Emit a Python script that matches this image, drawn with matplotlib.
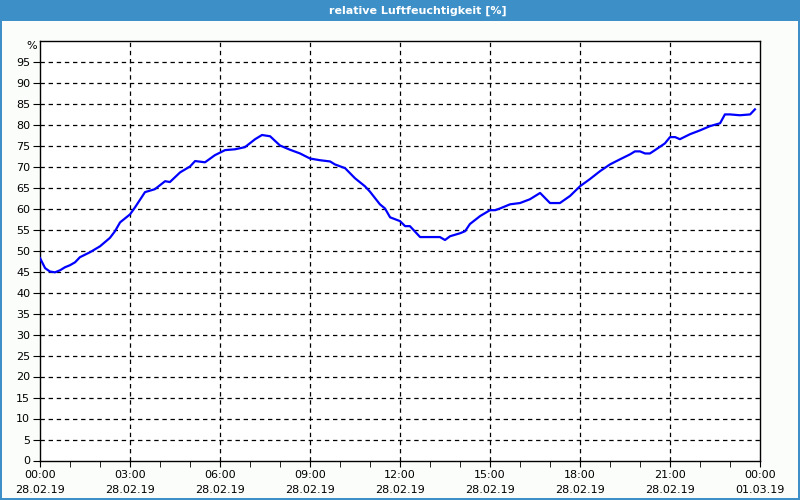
# relative humidity over one day, 28.02.19

import matplotlib.pyplot as plt
from matplotlib.patches import Rectangle
from matplotlib.ticker import MultipleLocator, FixedLocator

title = "relative Luftfeuchtigkeit [%]"

# hours since 28.02.19 00:00
hours = [0.0, 0.17, 0.33, 0.5, 0.67, 0.83, 1.0, 1.17, 1.33, 1.67, 2.0, 2.33, 2.5,
         2.67, 3.0, 3.17, 3.5, 3.83, 4.17, 4.33, 4.67, 5.0, 5.17, 5.5, 5.83, 6.17,
         6.5, 6.83, 7.17, 7.4, 7.67, 8.0, 8.33, 8.67, 9.0, 9.33, 9.67, 9.83, 10.17,
         10.5, 10.83, 11.0, 11.33, 11.5, 11.67, 12.0, 12.17, 12.33, 12.67, 13.0,
         13.33, 13.5, 13.67, 14.0, 14.17, 14.33, 14.67, 15.0, 15.17, 15.33, 15.67,
         16.0, 16.33, 16.67, 17.0, 17.33, 17.67, 18.0, 18.33, 18.67, 19.0, 19.33,
         19.67, 19.83, 20.0, 20.17, 20.33, 20.5, 20.83, 21.0, 21.17, 21.33, 21.67,
         22.0, 22.33, 22.67, 22.83, 23.0, 23.33, 23.67, 23.83]
humidity = [48.2, 45.8, 45.0, 44.8, 45.3, 46.0, 46.5, 47.2, 48.4, 49.6, 51.0, 53.0,
            54.6, 56.7, 58.6, 60.3, 63.9, 64.6, 66.5, 66.3, 68.6, 70.0, 71.3, 71.0,
            72.7, 73.9, 74.1, 74.6, 76.5, 77.5, 77.2, 75.0, 74.0, 73.1, 71.9, 71.5,
            71.2, 70.5, 69.6, 67.2, 65.3, 64.0, 61.0, 60.0, 57.9, 57.0, 55.8, 55.8,
            53.2, 53.2, 53.2, 52.5, 53.4, 54.1, 54.6, 56.3, 58.2, 59.6, 59.6, 60.0,
            61.0, 61.3, 62.2, 63.7, 61.3, 61.3, 63.0, 65.3, 67.0, 68.9, 70.5, 71.7,
            72.9, 73.6, 73.6, 73.1, 73.1, 73.9, 75.5, 77.0, 77.0, 76.5, 77.7, 78.6,
            79.6, 80.3, 82.4, 82.4, 82.2, 82.4, 83.6]

tick_hours = [0, 3, 6, 9, 12, 15, 18, 21, 24]
tick_labels = ["00:00\n28.02.19", "03:00\n28.02.19", "06:00\n28.02.19",
               "09:00\n28.02.19", "12:00\n28.02.19", "15:00\n28.02.19",
               "18:00\n28.02.19", "21:00\n28.02.19", "00:00\n01.03.19"]
y_ticks = list(range(0, 100, 5))

frame_col = "#3c8fc7"
bg_col = "#fbfdfb"

fig = plt.figure(figsize=(8, 5), dpi=100)
fig.patch.set_facecolor(frame_col)
# inner panel and title bar
fig.add_artist(Rectangle((2 / 800, 2 / 500), 796 / 800, 477 / 500, zorder=-5,
                         transform=fig.transFigure, facecolor=bg_col, edgecolor="none"))
fig.text(418 / 800, 1 - 10.5 / 500, title, color="white", fontsize=8, fontweight="bold",
         ha="center", va="center")

ax = fig.add_axes([40 / 800, 1 - 460.5 / 500, 720 / 800, 420 / 500])
ax.set_zorder(2)
ax.set_facecolor("white")
ax.plot(hours, humidity, color="#0000ff", lw=1.6, zorder=3)

ax.set_xlim(0, 24)
ax.set_ylim(0, 100)
ax.xaxis.set_major_locator(FixedLocator(tick_hours))
ax.xaxis.set_minor_locator(MultipleLocator(1))
ax.set_xticks(tick_hours, tick_labels)
ax.set_yticks(y_ticks)
ax.tick_params(axis="both", which="both", labelsize=8, direction="out", color="black")
ax.tick_params(axis="x", which="major", length=4, pad=3)
ax.tick_params(axis="x", which="minor", length=4)
ax.tick_params(axis="y", length=5, pad=2)
for lab in ax.get_xticklabels():
    lab.set_linespacing(1.6)
ax.text(-0.004, 1 - 5 / 420, "%", transform=ax.transAxes, ha="right", va="center",
        fontsize=8)

for h in tick_hours[1:-1]:
    ax.axvline(h, color="black", lw=0.9, ls=(0, (3.5, 3)))
for v in y_ticks[1:]:
    ax.axhline(v, color="black", lw=0.9, ls=(0, (3.5, 3)))
for s in ax.spines.values():
    s.set_linewidth(1.0)

fig.savefig("out.png", dpi=100, facecolor=fig.get_facecolor())
